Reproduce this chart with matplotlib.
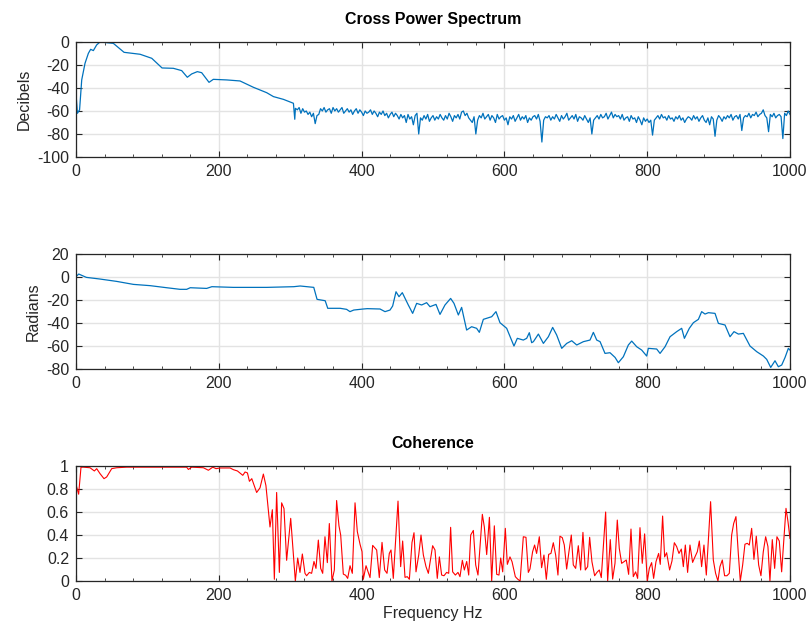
import numpy as np
import matplotlib
matplotlib.use("Agg")
import matplotlib.pyplot as plt
from matplotlib.ticker import AutoMinorLocator

# cross power spectrum, smooth low-frequency part (Hz, dB)
spec_freq_low = [0, 2, 5, 8, 12.6, 17.3, 20.5, 24.3, 28.9, 33.6, 43, 52.3, 67.3, 89.8,
                 106.1, 120.5, 136.3, 148, 155.9, 162, 169.9, 176, 186.3, 192.3, 211,
                 229.7, 248.4, 267.1, 276.5, 290.5, 304.5, 306.4, 307.3]
spec_db_low = [-45, -62, -59, -33, -18.6, -9.9, -6.4, -7.5, -2.6, 0, -0.6, -1.2, -9.0, -10.7,
               -14.2, -22.6, -22.9, -24.9, -30.7, -27.8, -25.8, -26.7, -35.1, -32.5, -33,
               -33.9, -39.4, -44.1, -47.5, -49.9, -53.3, -67.2, -57.7]

# noisy part, one value every 2.5 Hz from 310 to 1000 Hz
spec_db_noise = [
    -59, -57, -62, -58, -61, -60, -63, -61, -65, -62, -71, -64, -63, -58, -60, -57, -61, -59, -58, -62,
    -57, -60, -58, -61, -59, -57, -62, -60, -58, -61, -59, -63, -60, -58, -62, -59, -61, -64, -60, -62,
    -61, -59, -63, -60, -62, -65, -61, -63, -60, -64, -62, -66, -63, -61, -65, -62, -64, -67, -63, -66,
    -64, -70, -63, -67, -65, -72, -64, -62, -80, -66, -68, -64, -67, -63, -69, -66, -64, -68, -65, -67,
    -63, -66, -68, -64, -67, -62, -65, -69, -64, -66, -63, -67, -61, -60, -64, -62, -66, -68, -70, -65,
    -80, -68, -64, -66, -62, -67, -65, -63, -68, -64, -66, -70, -63, -67, -65, -64, -68, -66, -72, -65,
    -67, -64, -69, -66, -63, -68, -65, -67, -64, -70, -66, -68, -65, -64, -67, -63, -69, -87, -68, -65,
    -66, -64, -68, -65, -67, -63, -66, -69, -64, -67, -65, -62, -68, -66, -64, -67, -63, -69, -65, -66,
    -68, -64, -67, -70, -66, -80, -68, -66, -64, -67, -63, -66, -65, -62, -67, -64, -61, -66, -63, -65,
    -64, -67, -63, -68, -66, -65, -69, -64, -67, -66, -70, -65, -68, -72, -66, -69, -67, -70, -68, -81,
    -68, -66, -64, -67, -63, -66, -65, -68, -64, -67, -66, -69, -65, -67, -64, -68, -66, -70, -67, -65,
    -66, -68, -64, -67, -65, -69, -66, -64, -68, -70, -66, -72, -65, -67, -82, -68, -64, -66, -69, -65,
    -67, -64, -66, -63, -68, -65, -64, -67, -63, -77, -66, -64, -65, -62, -66, -63, -64, -61, -65, -63,
    -62, -59, -64, -66, -78, -63, -65, -62, -66, -64, -63, -65, -84, -62, -64, -60, -63,
]
spec_freq_noise = np.arange(len(spec_db_noise)) * 2.5 + 310

# phase (Hz, rad)
phase_freq = [0, 3.8, 14.5, 33, 57, 80.4, 103.8, 127, 145.7, 155, 160, 183, 190.3, 220.5, 267,
              305, 314, 333, 337.6, 349, 352.6, 370, 379, 383.7, 389, 402.4, 408, 425.8, 432.8,
              439.8, 443.5, 448.2, 452.4, 457, 465.4, 471.5, 477.1, 484.1, 491.1, 495.8, 504.2,
              509.8, 516.8, 524.7, 529.4, 535.5, 540.1, 547.1, 554.1, 561.1, 564.9, 570.5, 582.2,
              588.2, 593.8, 603.2, 613.4, 618.1, 626.5, 631.2, 634.9, 638.2, 640.6, 647.6, 654.6,
              661.6, 667.6, 673.2, 680.3, 687.3, 694.3, 701.3, 710.6, 719.9, 724.6, 729.3, 734,
              740.9, 747.9, 755, 759.6, 766.6, 773.6, 778.3, 785.3, 792.3, 799.3, 801.6, 813.3,
              818, 825, 832, 841.3, 848.3, 852.1, 859, 864.7, 871.7, 876.3, 881, 885.7, 895,
              899.7, 909, 916, 921.6, 927.7, 934.7, 944, 953.4, 962.7, 967.4, 973, 979, 983.7,
              988.4, 993.1, 997.7, 1000]
phase_rad = [0.3, 2.6, -0.3, -1.7, -3.8, -6.4, -7.5, -9.3, -10.7, -10.7, -9.3, -9.9, -8.4, -9.0,
             -9.0, -8.4, -7.8, -9.0, -19.4, -20.6, -27.2, -27.2, -28.1, -30.1, -28.7, -27.8,
             -27.5, -27.8, -30.1, -28.7, -25.2, -12.8, -17.1, -13.6, -24.3, -31.6, -22.9, -24.3,
             -22.3, -25.8, -23.8, -32.5, -24.3, -18.6, -22.9, -33, -26.4, -46.1, -43.2, -44.6,
             -48.1, -36.8, -34.5, -30.1, -39.7, -44.6, -60, -53.3, -54.8, -53.3, -48.4, -57.1,
             -56.2, -49.6, -57.7, -51.9, -43.8, -50.4, -62, -57.7, -55.4, -59.1, -56.2, -54.8,
             -48.1, -54.8, -56.2, -66.4, -65.8, -69.9, -74.5, -69.3, -59.1, -55.7, -60.6, -63.5,
             -68.7, -62, -62.6, -66.4, -60.6, -51.9, -47.5, -44.6, -53.3, -44.6, -39.7, -36.8,
             -30.1, -32.2, -31, -31.6, -40.3, -41.7, -51.9, -47.5, -49.6, -49, -60, -64.9,
             -68.7, -71.6, -78.6, -72.8, -78, -76.5, -69.9, -62, -63.5]

# coherence
coh_freq = [0.4, 3.7, 7, 10.2, 19.6, 25.7, 29, 33.6, 39.2, 43, 50, 57, 71, 155, 157.4, 162,
            178.4, 185.4, 191.5, 196.2, 201.8, 215.8, 220.5, 226.1, 233.6, 236.8, 240.1, 242.9,
            246.2, 253, 257.7, 262.4, 266, 271.7, 275, 277.8, 281, 284.8, 288, 291.3, 295,
            300.7, 307.2, 310.5, 313.7, 317, 320.7, 323, 326.8, 330, 333.3, 336.1, 339.4, 342.7,
            345.5, 348.7, 352, 354.8, 358.5, 361.8, 365, 368.3, 370.7, 374.4, 377.7, 380.5,
            383.8, 387, 390.8, 394, 397.8, 400.6, 402.4, 406.2, 411.8, 415.5, 421.1, 424.8,
            428.6, 432.3, 435.6, 438.8, 441.2, 444.4, 451, 454.7, 457.5, 460.8, 464, 466.9,
            470.6, 473.4, 476.2, 480, 483.2, 486.5, 490.2, 493.5, 499.5, 502.8, 506, 508.9,
            512.1, 515.4, 519.1, 522, 524.7, 527.5, 531.3, 535, 537.8, 541.1, 543.9, 547.2,
            550, 552.8, 556.5, 559.8, 563, 569.1, 571.9, 575.2, 579, 582.2, 585.9, 589.2,
            592.4, 594.8, 597.6, 601.3, 604.1, 607.8, 610.7, 615.3, 618.5, 622, 626.5, 630.2,
            633.5, 635.8, 639.5, 642.3, 645.1, 648.9, 652.1, 655.4, 658.7, 662, 665.2, 668.5,
            671.8, 675, 677.8, 681.1, 683.9, 687.2, 690.4, 693.7, 696.5, 699.8, 703.5, 706.8,
            710, 713.3, 716.6, 719.4, 722.6, 726.4, 729.6, 732.9, 735.7, 741.8, 744.6, 748.3,
            751.6, 754.9, 758.1, 760.9, 764.2, 767.5, 770.7, 774, 777.3, 780.5, 783.8, 786.6,
            789.9, 793.1, 796.4, 800.1, 803, 806.2, 809, 812.3, 816, 818.3, 821.6, 824.4,
            827.2, 831.4, 834.7, 838, 841.2, 844.5, 847.8, 850.6, 853.4, 856.6, 859.9, 863.6,
            866.9, 870.2, 873, 876.2, 879.5, 882.8, 888.8, 892.6, 895.8, 899.1, 901.9, 905.2,
            908.4, 911.7, 915, 918.3, 921.1, 924.3, 927.6, 930.4, 933.7, 936.9, 940.2, 943,
            946.3, 949.5, 952.8, 956.1, 959.3, 962.6, 965.9, 969.1, 971.9, 975.2, 978.5, 981.7,
            985, 988.3, 991.5, 994.4, 997.2, 1000]
coh_val = [0.83, 0.755, 0.99, 0.99, 0.985, 0.957, 0.977, 0.934, 0.89, 0.905, 0.977, 0.985, 0.99,
           0.99, 0.97, 0.99, 0.985, 0.963, 0.99, 0.977, 0.983, 0.983, 0.968, 0.957, 0.919, 0.948,
           0.94, 0.867, 0.89, 0.77, 0.81, 0.93, 0.83, 0.47, 0.62, 0.015, 0.77, 0.075, 0.68,
           0.63, 0.18, 0.545, 0.0, 0.2, 0.075, 0.235, 0.067, 0.046, 0.075, 0.067, 0.17, 0.11,
           0.356, 0.11, 0.067, 0.385, 0.16, 0.5, 0.0, 0.096, 0.70, 0.48, 0.40, 0.06, 0.05,
           0.023, 0.133, 0.067, 0.68, 0.43, 0.32, 0.255, 0.015, 0.133, 0.03, 0.31, 0.27, 0.03,
           0.336, 0.096, 0.067, 0.24, 0.27, 0.023, 0.695, 0.125, 0.348, 0.032, 0.038, 0.015,
           0.336, 0.42, 0.08, 0.226, 0.40, 0.226, 0.125, 0.067, 0.307, 0.27, 0.023, 0.21,
           0.052, 0.046, 0.075, 0.067, 0.467, 0.08, 0.052, 0.075, 0.038, 0.18, 0.096, 0.17,
           0.052, 0.40, 0.44, 0.14, 0.052, 0.58, 0.47, 0.23, 0.554, 0.0, 0.48, 0.058, 0.052,
           0.2, 0.08, 0.458, 0.145, 0.21, 0.168, 0.038, 0.017, 0.0, 0.385, 0.38, 0.075, 0.104,
           0.255, 0.313, 0.24, 0.385, 0.116, 0.226, 0.015, 0.232, 0.24, 0.333, 0.226, 0.052,
           0.39, 0.377, 0.313, 0.104, 0.255, 0.40, 0.14, 0.11, 0.307, 0.096, 0.423, 0.096,
           0.125, 0.38, 0.168, 0.046, 0.075, 0.096, 0.03, 0.60, 0.0, 0.36, 0.017, 0.154, 0.53,
           0.284, 0.154, 0.168, 0.183, 0.058, 0.452, 0.038, 0.08, 0.023, 0.464, 0.154, 0.41,
           0.0, 0.11, 0.16, 0.023, 0.168, 0.24, 0.145, 0.565, 0.21, 0.246, 0.096, 0.174,
           0.333, 0.30, 0.24, 0.278, 0.125, 0.313, 0.075, 0.313, 0.162, 0.21, 0.255, 0.348,
           0.125, 0.313, 0.052, 0.69, 0.183, 0.067, 0.0, 0.125, 0.183, 0.046, 0.046, 0.067,
           0.40, 0.50, 0.56, 0.24, 0.0, 0.14, 0.32, 0.328, 0.313, 0.458, 0.188, 0.39, 0.14,
           0.046, 0.255, 0.385, 0.30, 0.0, 0.36, 0.11, 0.385, 0.348, 0.08, 0.37, 0.632, 0.516,
           0.37]

plt.rcParams['font.family'] = ['Liberation Sans', 'DejaVu Sans']
plt.rcParams['axes.unicode_minus'] = False
axis_color = '#262626'

fig = plt.figure(figsize=(8.12, 6.33), dpi=100)
left, width, height = 0.0936, 0.8793, 0.1817
ax1 = fig.add_axes([left, 0.752, width, height])
ax2 = fig.add_axes([left, 0.417, width, height])
ax3 = fig.add_axes([left, 0.0821, width, height])


def matlab_style(ax):
    ax.set_xlim(0, 1000)
    ax.set_xticks([0, 200, 400, 600, 800, 1000])
    ax.xaxis.set_minor_locator(AutoMinorLocator(5))
    ax.grid(True, color='#e3e3e3', linewidth=1.0)
    ax.set_axisbelow(True)
    ax.tick_params(which='both', direction='in', top=True, right=True,
                   colors=axis_color, labelsize=11.5, pad=5)
    ax.tick_params(which='major', length=4, width=0.8)
    ax.tick_params(which='minor', length=2, width=0.6)
    for s in ax.spines.values():
        s.set_color(axis_color)
        s.set_linewidth(0.9)


ax1.plot(spec_freq_low + list(spec_freq_noise), spec_db_low + spec_db_noise,
         color='#0072BD', linewidth=0.9)
matlab_style(ax1)
ax1.set_ylim(-100, 0)
ax1.set_yticks([-100, -80, -60, -40, -20, 0])
ax1.set_ylabel('Decibels', fontsize=11.5, color=axis_color)
ax1.set_title('Cross Power Spectrum', fontsize=11.5, fontweight='bold', pad=13)

ax2.plot(phase_freq, phase_rad, color='#0072BD', linewidth=0.9)
matlab_style(ax2)
ax2.set_ylim(-80, 20)
ax2.set_yticks([-80, -60, -40, -20, 0, 20])
ax2.set_ylabel('Radians', fontsize=11.5, color=axis_color)

ax3.plot(coh_freq, coh_val, color='red', linewidth=0.8)
matlab_style(ax3)
ax3.set_ylim(0, 1)
ax3.set_yticks([0, 0.2, 0.4, 0.6, 0.8, 1])
ax3.set_yticklabels(['0', '0.2', '0.4', '0.6', '0.8', '1'])
ax3.set_xlabel('Frequency Hz', fontsize=11.5, color=axis_color, labelpad=2)
ax3.set_title('Coherence', fontsize=11.5, fontweight='bold', pad=13)

fig.savefig('out.png', dpi=100)
